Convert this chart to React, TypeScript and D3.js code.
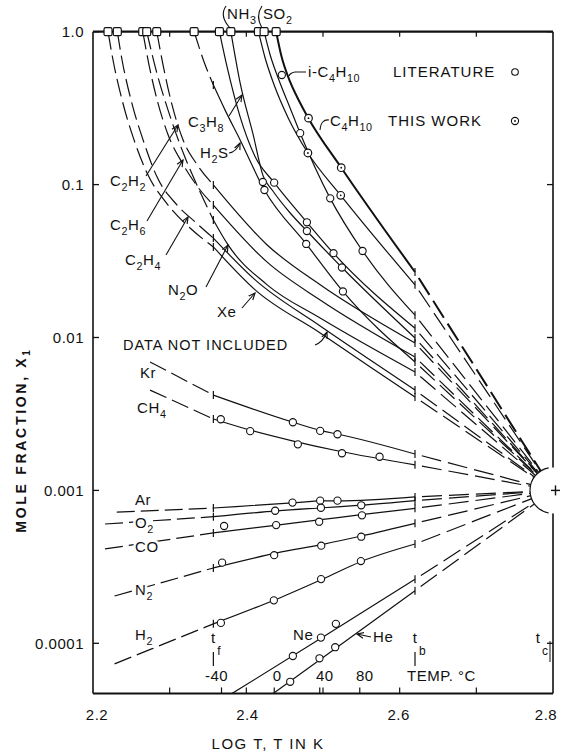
import * as d3 from "d3"

type Pt = [number, number]

// axis values
const LOG_T_TICKS = [2.3, 2.4, 2.5, 2.6, 2.7]
const LOG_T_LABELS = [2.2, 2.4, 2.6, 2.8]
const LOG_T_LABEL_SHIFT = [4, 1, -1, -7]
const X_TICKS = [1, 0.1, 0.01, 0.001, 0.0001]
const X_TICK_LABELS = ["1.0", "0.1", "0.01", "0.001", "0.0001"]
const TEMP_C = [-40, 0, 40, 80]
const TEMP_SHIFT = [-5, 3, 5, 5]

// freezing point, boiling point and critical point of the solvent (log T)
const T_F = 2.357
const T_B = 2.62
const T_C = 2.8
const X_C = 0.001

// log T where each solute curve leaves X = 1
const SQUARES = [2.2196, 2.2317, 2.2649, 2.2701, 2.2832, 2.3319, 2.3649, 2.3798, 2.4158, 2.4232, 2.4389]

// curves: [log T, mole fraction]
const XE: Pt[] = [[2.2196, 1], [2.2261, 0.653], [2.2379, 0.358], [2.2535, 0.196], [2.2705, 0.119], [2.2979, 0.0735], [2.3266, 0.052], [2.357, 0.0391], [2.4115, 0.0205], [2.4963, 0.0107], [2.5616, 0.00641], [2.62, 0.00408], [2.8, 0.001]]
const C2H4: Pt[] = [[2.2317, 1], [2.2379, 0.653], [2.2496, 0.358], [2.2653, 0.196], [2.2836, 0.112], [2.3097, 0.0735], [2.3332, 0.057], [2.357, 0.0447], [2.4115, 0.0238], [2.4963, 0.0119], [2.5616, 0.00713], [2.62, 0.00453], [2.8, 0.001]]
const N2O: Pt[] = [[2.2701, 1], [2.2822, 0.562], [2.2979, 0.307], [2.3188, 0.156], [2.3397, 0.0895], [2.357, 0.0587], [2.3762, 0.0403], [2.4272, 0.0221], [2.4963, 0.0134], [2.62, 0.00595], [2.8, 0.001]]
const C2H6: Pt[] = [[2.2649, 1], [2.2731, 0.605], [2.2836, 0.358], [2.2979, 0.212], [2.3162, 0.139], [2.3397, 0.0922], [2.357, 0.0735], [2.4272, 0.0311], [2.4963, 0.0176], [2.62, 0.00746], [2.8, 0.001]]
const C2H2: Pt[] = [[2.2832, 1], [2.2914, 0.605], [2.3031, 0.332], [2.3175, 0.196], [2.3358, 0.135], [2.357, 0.0995], [2.4272, 0.0403], [2.4963, 0.0221], [2.62, 0.0092], [2.8, 0.001]]
const H2S: Pt[] = [[2.3319, 1], [2.3449, 0.634], [2.357, 0.448], [2.3723, 0.307], [2.3919, 0.196], [2.4236, 0.0922], [2.4781, 0.0409], [2.526, 0.02], [2.62, 0.00692], [2.8, 0.001]]
const C3H8: Pt[] = [[2.3649, 1], [2.3749, 0.588], [2.3919, 0.277], [2.4115, 0.152], [2.4363, 0.103], [2.479, 0.0567], [2.5137, 0.0356], [2.62, 0.0115], [2.8, 0.001]]
const NH3: Pt[] = [[2.3798, 1], [2.3919, 0.462], [2.4089, 0.212], [2.4219, 0.114], [2.4337, 0.0922], [2.4572, 0.0652], [2.479, 0.0497], [2.5247, 0.0287], [2.62, 0.00993], [2.8, 0.001]]
const SO2: Pt[] = [[2.4232, 1], [2.4311, 0.704], [2.4415, 0.498], [2.4572, 0.316], [2.4702, 0.217], [2.5094, 0.0813], [2.5516, 0.0368], [2.62, 0.014], [2.8, 0.001]]
const I_C4H10: Pt[] = [[2.4158, 1], [2.4245, 0.673], [2.4363, 0.448], [2.4546, 0.273], [2.4803, 0.161], [2.5231, 0.0851], [2.62, 0.0221], [2.8, 0.001]]
const C4H10: Pt[] = [[2.4389, 1], [2.4454, 0.704], [2.4572, 0.469], [2.4702, 0.342], [2.4807, 0.273], [2.5238, 0.129], [2.62, 0.0268], [2.8, 0.001]]
const KR: Pt[] = [[2.2744, 0.00692], [2.357, 0.0042], [2.46, 0.0028], [2.5, 0.00244], [2.52, 0.00233], [2.62, 0.00173], [2.8, 0.001]]
const CH4: Pt[] = [[2.2744, 0.00453], [2.357, 0.00293], [2.4, 0.00252], [2.46, 0.00211], [2.52, 0.00181], [2.62, 0.00147], [2.8, 0.001]]
const AR: Pt[] = [[2.231, 0.000722], [2.357, 0.000767], [2.46, 0.000828], [2.5, 0.000853], [2.52, 0.000853], [2.62, 0.000906], [2.8, 0.001]]
const O2: Pt[] = [[2.2157, 0.000603], [2.357, 0.000673], [2.44, 0.000735], [2.5, 0.00077], [2.55, 0.0008], [2.62, 0.000857], [2.8, 0.001]]
const CO: Pt[] = [[2.2157, 0.000414], [2.357, 0.000527], [2.44, 0.000593], [2.5, 0.000646], [2.55, 0.000694], [2.62, 0.000763], [2.8, 0.001]]
const N2: Pt[] = [[2.2281, 0.000204], [2.357, 0.000311], [2.44, 0.00039], [2.5, 0.000444], [2.55, 0.000503], [2.62, 0.000609], [2.8, 0.001]]
const H2: Pt[] = [[2.2281, 0.0000733], [2.357, 0.000134], [2.44, 0.000195], [2.5, 0.000264], [2.55, 0.000343], [2.62, 0.000446], [2.8, 0.001]]
const NE: Pt[] = [[2.38, 0.0000465], [2.5, 0.00011], [2.62, 0.000262], [2.8, 0.001]]
const HE: Pt[] = [[2.43, 0.000045], [2.5, 0.0000808], [2.62, 0.000221], [2.8, 0.001]]

// literature points (open circles)
const LIT_OBS: Pt[] = [
  [2.4215, 0.104], [2.4363, 0.103], [2.4236, 0.0922], [2.479, 0.0567], [2.479, 0.0497], [2.4781, 0.0409],
  [2.5137, 0.0356], [2.5247, 0.0287], [2.526, 0.02], [2.5516, 0.0368], [2.4702, 0.217], [2.4463, 0.521], [2.5094, 0.0813],
  [2.4607, 0.00279], [2.4963, 0.00245], [2.5189, 0.00233],
  [2.3667, 0.00292], [2.405, 0.00244], [2.4672, 0.002], [2.5247, 0.00175], [2.5738, 0.00166],
  [2.4602, 0.000832], [2.4963, 0.000857], [2.5189, 0.000857],
  [2.4376, 0.000736], [2.4973, 0.00077], [2.5499, 0.000799],
  [2.371, 0.000585], [2.4389, 0.000593], [2.495, 0.000624], [2.5508, 0.000687],
  [2.3684, 0.000337], [2.4363, 0.000377], [2.4977, 0.000435], [2.5499, 0.000498],
  [2.3668, 0.000136], [2.4359, 0.000191], [2.4975, 0.000263], [2.5494, 0.000345],
  [2.4607, 0.0000826], [2.4973, 0.000109], [2.5168, 0.000134],
  [2.4572, 0.000056], [2.4954, 0.0000798], [2.5159, 0.0000943],
]
// this work (dotted circles)
const WORK_OBS: Pt[] = [[2.4811, 0.272], [2.4803, 0.161], [2.5238, 0.129], [2.5231, 0.0851]]

const CURVES: { pts: Pt[]; heavy?: boolean }[] = [
  { pts: XE }, { pts: C2H4 }, { pts: N2O }, { pts: C2H6 }, { pts: C2H2 }, { pts: H2S }, { pts: C3H8 },
  { pts: NH3 }, { pts: SO2 }, { pts: I_C4H10 }, { pts: C4H10, heavy: true },
  { pts: KR }, { pts: CH4 }, { pts: AR }, { pts: O2 }, { pts: CO }, { pts: N2 }, { pts: H2 }, { pts: NE }, { pts: HE },
]

const W = 561
const H = 752
const FONT = "'Liberation Sans', Arial, sans-serif"
const INK = "#111"

const x = d3.scaleLinear().domain([2.2, 2.8]).range([93, 553])
const y = d3.scaleLog().domain([1e-4, 1]).range([643.3, 31.7])
const LEFT = x(2.2)
const RIGHT = x(2.8)
const TOP = y(1)
const BOTTOM = y(4.7e-5)

const line = d3
  .line<Pt>()
  .x((d) => x(d[0]))
  .y((d) => y(d[1]))
  .curve(d3.curveMonotoneX)

function split(pts: Pt[]) {
  const eps = 1e-4
  const left = pts.filter((p) => p[0] <= T_F + eps)
  const mid = pts.filter((p) => p[0] >= T_F - eps && p[0] <= T_B + eps)
  const right = pts.filter((p) => p[0] >= T_B - eps)
  return { left: left.length > 1 ? left : [], mid, right }
}

function Formula({
  text,
  x: tx,
  y: ty,
  size = 15,
  anchor = "start",
  halo = false,
}: {
  text: string
  x: number
  y: number
  size?: number
  anchor?: string
  halo?: boolean
}) {
  const parts: { t: string; sub: boolean }[] = []
  for (const ch of text) {
    const sub = /[0-9]/.test(ch)
    const last = parts[parts.length - 1]
    if (last && last.sub === sub) last.t += ch
    else parts.push({ t: ch, sub })
  }
  let level = 0
  return (
    <text
      x={tx}
      y={ty}
      fontSize={size}
      textAnchor={anchor}
      fontFamily={FONT}
      fill={INK}
      letterSpacing={0.6}
      stroke={halo ? "white" : "none"}
      strokeWidth={halo ? 5 : 0}
      paintOrder="stroke"
    >
      {parts.map((p, i) => {
        const target = p.sub ? 5 : 0
        const dy = target - level
        level = target
        return (
          <tspan key={i} dy={dy} fontSize={p.sub ? size * 0.72 : size}>
            {p.t}
          </tspan>
        )
      })}
    </text>
  )
}

function Leader({ d }: { d: string }) {
  return <path d={d} fill="none" stroke={INK} strokeWidth={1.1} markerEnd="url(#arr)" />
}

export default function App() {
  const cx = x(T_C)
  const cy = y(X_C)
  const ring = d3.path()
  ring.arc(cx, cy, 23, Math.PI * 0.56, Math.PI * 1.44)

  return (
    <svg
      width={W}
      height={H}
      viewBox={`0 0 ${W} ${H}`}
      style={{ position: "absolute", left: 0, top: 0, background: "white" }}
    >
      <defs>
        <clipPath id="plot">
          <rect x={LEFT} y={TOP} width={RIGHT - LEFT} height={BOTTOM - TOP} />
        </clipPath>
        <marker id="arr" viewBox="0 0 8 8" refX={7} refY={4} markerWidth={7} markerHeight={7} orient="auto">
          <path d="M0,1 L7,4 L0,7" fill="none" stroke={INK} strokeWidth={1.2} />
        </marker>
      </defs>
      <rect width={W} height={H} fill="white" />

      {/* curves */}
      <g clipPath="url(#plot)" fill="none" stroke={INK}>
        {CURVES.map((c, i) => {
          const s = split(c.pts)
          const sw = c.heavy ? 2 : 1.2
          const fy = s.left.length ? y(s.left[s.left.length - 1][1]) : null
          const by = y(s.right[0][1])
          return (
            <g key={i} strokeWidth={sw}>
              {s.left.length ? <path d={line(s.left) ?? ""} strokeDasharray="18 6" /> : null}
              <path d={line(s.mid) ?? ""} />
              <path d={line(s.right) ?? ""} strokeDasharray="20 7" strokeDashoffset={20} />
              {fy !== null ? <line x1={x(T_F)} x2={x(T_F)} y1={fy - 4} y2={fy + 4} strokeWidth={1.2} /> : null}
              <line x1={x(T_B)} x2={x(T_B)} y1={by - 4} y2={by + 4} strokeWidth={1.2} />
            </g>
          )
        })}
      </g>

      {/* frame */}
      <g stroke={INK} fill="none">
        <line x1={LEFT} x2={LEFT} y1={TOP} y2={BOTTOM} strokeWidth={1.6} />
        <line x1={RIGHT} x2={RIGHT} y1={TOP} y2={BOTTOM} strokeWidth={1.6} />
        <line x1={LEFT} x2={RIGHT} y1={BOTTOM} y2={BOTTOM} strokeWidth={2} />
        <line x1={LEFT} x2={RIGHT} y1={TOP} y2={TOP} strokeWidth={2.2} />
        {X_TICKS.map((v) => (
          <g key={v}>
            <line x1={LEFT} x2={LEFT + 6} y1={y(v)} y2={y(v)} strokeWidth={1.3} />
            <line x1={RIGHT - 6} x2={RIGHT} y1={y(v)} y2={y(v)} strokeWidth={1.3} />
          </g>
        ))}
        {LOG_T_TICKS.map((v) => (
          <g key={v}>
            <line x1={x(v)} x2={x(v)} y1={BOTTOM} y2={BOTTOM - 6} strokeWidth={1.2} />
            <line x1={x(v)} x2={x(v)} y1={TOP} y2={TOP + 5} strokeWidth={1.2} />
          </g>
        ))}
        {TEMP_C.map((t) => {
          const tx = x(Math.log10(t + 273.15))
          return <line key={t} x1={tx} x2={tx} y1={BOTTOM} y2={BOTTOM - 6} strokeWidth={1.2} />
        })}
      </g>

      {/* critical point */}
      <circle cx={cx} cy={cy} r={23} fill="white" />
      <path d={ring.toString()} fill="none" stroke={INK} strokeWidth={1.2} />
      <g stroke={INK} strokeWidth={1.4}>
        <line x1={cx - 2} x2={cx + 7} y1={cy} y2={cy} />
        <line x1={cx + 2.5} x2={cx + 2.5} y1={cy - 5} y2={cy + 5} />
      </g>

      {/* data markers */}
      {SQUARES.map((t) => (
        <rect key={t} x={x(t) - 4} y={TOP - 4} width={8} height={8} rx={1.5} fill="white" stroke={INK} strokeWidth={1.2} />
      ))}
      {LIT_OBS.map((p, i) => (
        <circle key={i} cx={x(p[0])} cy={y(p[1])} r={3.6} fill="white" stroke={INK} strokeWidth={1.1} />
      ))}
      {WORK_OBS.map((p, i) => (
        <g key={i}>
          <circle cx={x(p[0])} cy={y(p[1])} r={3.8} fill="white" stroke={INK} strokeWidth={1.2} />
          <circle cx={x(p[0])} cy={y(p[1])} r={0.9} fill={INK} />
        </g>
      ))}

      {/* axis labels */}
      <g fontFamily={FONT} fill={INK} fontSize={15} letterSpacing={0.5}>
        {X_TICKS.map((v, i) => (
          <text key={v} x={84} y={y(v) + 5.5} textAnchor="end">
            {X_TICK_LABELS[i]}
          </text>
        ))}
        {LOG_T_LABELS.map((v, i) => (
          <text key={v} x={x(v) + LOG_T_LABEL_SHIFT[i]} y={720} textAnchor="middle">
            {v.toFixed(1)}
          </text>
        ))}
        {TEMP_C.map((t, i) => (
          <text key={t} x={x(Math.log10(t + 273.15)) + TEMP_SHIFT[i]} y={681} textAnchor="middle">
            {t < 0 ? `-${-t}` : t}
          </text>
        ))}
        <text x={407} y={681}>TEMP. °C</text>
        <text x={268} y={749} textAnchor="middle" letterSpacing={1.5}>
          LOG T, T IN K
        </text>
        <text transform="translate(26,440) rotate(-90)" textAnchor="middle" fontWeight="bold" letterSpacing={2.7} fontSize={14}>
          MOLE FRACTION, X<tspan dy={4} fontSize={10}>1</tspan>
        </text>
        {[
          { t: "f", tx: x(T_F), bar: true },
          { t: "b", tx: x(T_B), bar: true },
          { t: "c", tx: 538, bar: false },
        ].map((m) => (
          <g key={m.t}>
            <text x={m.tx} y={643} textAnchor="middle">t</text>
            <text x={m.tx + 4} y={655} fontSize={12}>{m.t}</text>
            {m.bar ? <line x1={m.tx} x2={m.tx} y1={652} y2={666} stroke={INK} strokeWidth={1.2} /> : null}
          </g>
        ))}
        <line x1={550} x2={550} y1={641} y2={662} stroke={INK} strokeWidth={1} />
        <text x={393} y={77} letterSpacing={1}>LITERATURE</text>
        <text x={388} y={126} letterSpacing={1}>THIS WORK</text>
      </g>
      <circle cx={515} cy={72} r={3.3} fill="white" stroke={INK} strokeWidth={1.1} />
      <circle cx={515} cy={121} r={3.6} fill="white" stroke={INK} strokeWidth={1.1} />
      <circle cx={515} cy={121} r={0.9} fill={INK} />

      {/* curve labels */}
      <Formula text="NH3" x={227} y={19} />
      <Formula text="SO2" x={263} y={19} />
      <path d="M226,6 Q219,16 230,28" fill="none" stroke={INK} strokeWidth={1.1} />
      <path d="M262,6 Q255,16 262,28" fill="none" stroke={INK} strokeWidth={1.1} />
      <Formula text="i-C4H10" x={308} y={77} />
      <path d="M306,72 L295,72 Q290,73 289,76" fill="none" stroke={INK} strokeWidth={1.1} />
      <Formula text="C4H10" x={330} y={126} />
      <path d="M329,120 Q321,119 320,130" fill="none" stroke={INK} strokeWidth={1.1} />
      <Formula text="C3H8" x={188} y={127} />
      <Leader d="M229,116 L242,95" />
      <Formula text="H2S" x={200} y={158} />
      <Leader d="M229,153 Q236,152 240,143" />
      <Formula text="C2H2" x={110} y={186} />
      <Leader d="M146,176 L178,125" />
      <Formula text="C2H6" x={110} y={230} />
      <Leader d="M147,221 L183,160" />
      <Formula text="C2H4" x={125} y={265} />
      <Leader d="M166,255 L188,217" />
      <Formula text="N2O" x={168} y={295} />
      <Leader d="M206,287 L228,245" />
      <Formula text="Xe" x={217} y={317} />
      <Leader d="M242,308 L255,293" />
      <text x={123} y={350} fontFamily={FONT} fontSize={14.5} letterSpacing={1} fill={INK}>
        DATA NOT INCLUDED
      </text>
      <Leader d="M315,345 Q323,342 327,332" />
      <Formula text="Kr" x={140} y={378} halo />
      <Formula text="CH4" x={137} y={413} halo />
      <Formula text="Ar" x={135} y={505} halo />
      <Formula text="O2" x={135} y={528} halo />
      <Formula text="CO" x={135} y={552} halo />
      <Formula text="N2" x={135} y={595} halo />
      <Formula text="H2" x={135} y={640} halo />
      <Formula text="Ne" x={293} y={640} halo />
      <Formula text="He" x={373} y={642} />
      <path d="M371,637 L357,634" fill="none" stroke={INK} strokeWidth={1.1} markerEnd="url(#arr)" />
    </svg>
  )
}
